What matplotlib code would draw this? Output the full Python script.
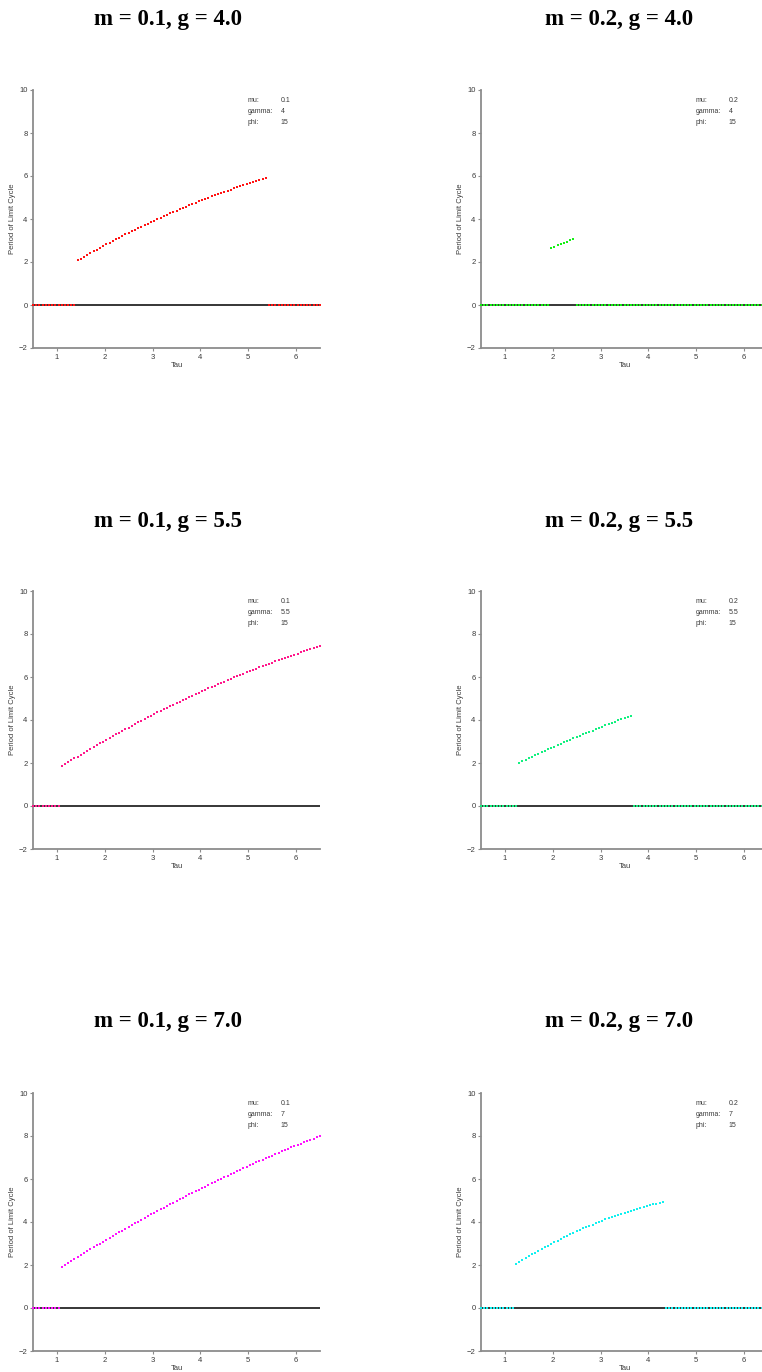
import numpy as np
import matplotlib
matplotlib.use('Agg')
import matplotlib.pyplot as plt

# Tau sweep used for every run
TAU_MIN, TAU_MAX, N_TAU = 0.5, 6.5, 91
tau = np.linspace(TAU_MIN, TAU_MAX, N_TAU)

mu_values = [0.1, 0.2]
gamma_values = [4.0, 5.5, 7.0]
phi = 15

# Limit-cycle period, listed from the first tau index where the cycle exists
k_mu01_g40 = 14
p_mu01_g40 = [2.07, 2.16, 2.24, 2.32, 2.41, 2.49, 2.57, 2.65, 2.74, 2.82,
              2.89, 2.97, 3.05, 3.13, 3.20, 3.28, 3.35, 3.43, 3.50, 3.57,
              3.65, 3.72, 3.79, 3.86, 3.93, 4.00, 4.06, 4.13, 4.20, 4.26,
              4.33, 4.39, 4.46, 4.52, 4.58, 4.64, 4.70, 4.76, 4.82, 4.88,
              4.94, 4.99, 5.05, 5.11, 5.16, 5.22, 5.27, 5.32, 5.37, 5.43,
              5.48, 5.53, 5.57, 5.62, 5.67, 5.72, 5.76, 5.81, 5.85, 5.90]

k_mu02_g40 = 22
p_mu02_g40 = [2.64, 2.71, 2.77, 2.83, 2.89, 2.95, 3.01, 3.07]

k_mu01_g55 = 9
p_mu01_g55 = [1.85, 1.94, 2.03, 2.12, 2.21, 2.30, 2.39, 2.48, 2.57, 2.65,
              2.74, 2.82, 2.91, 2.99, 3.08, 3.16, 3.24, 3.33, 3.41, 3.49,
              3.57, 3.65, 3.73, 3.81, 3.89, 3.97, 4.04, 4.12, 4.20, 4.27,
              4.35, 4.42, 4.49, 4.57, 4.64, 4.71, 4.78, 4.86, 4.93, 5.00,
              5.07, 5.13, 5.20, 5.27, 5.34, 5.40, 5.47, 5.54, 5.60, 5.67,
              5.73, 5.79, 5.86, 5.92, 5.98, 6.04, 6.10, 6.16, 6.22, 6.28,
              6.34, 6.39, 6.45, 6.51, 6.56, 6.62, 6.67, 6.73, 6.78, 6.83,
              6.89, 6.94, 6.99, 7.04, 7.09, 7.14, 7.19, 7.24, 7.29, 7.34,
              7.38, 7.43]

k_mu02_g55 = 12
p_mu02_g55 = [2.00, 2.07, 2.14, 2.21, 2.28, 2.35, 2.42, 2.49, 2.56, 2.63,
              2.69, 2.76, 2.83, 2.89, 2.96, 3.02, 3.08, 3.15, 3.21, 3.27,
              3.33, 3.39, 3.45, 3.51, 3.57, 3.63, 3.69, 3.75, 3.81, 3.86,
              3.92, 3.98, 4.03, 4.09, 4.14, 4.19]

k_mu01_g70 = 9
p_mu01_g70 = [1.92, 2.01, 2.10, 2.20, 2.29, 2.38, 2.47, 2.56, 2.65, 2.74,
              2.83, 2.91, 3.00, 3.09, 3.18, 3.26, 3.35, 3.43, 3.52, 3.60,
              3.69, 3.77, 3.86, 3.94, 4.02, 4.10, 4.18, 4.27, 4.35, 4.43,
              4.51, 4.59, 4.67, 4.74, 4.82, 4.90, 4.98, 5.05, 5.13, 5.21,
              5.28, 5.36, 5.43, 5.51, 5.58, 5.65, 5.73, 5.80, 5.87, 5.94,
              6.01, 6.08, 6.15, 6.22, 6.29, 6.36, 6.43, 6.50, 6.57, 6.63,
              6.70, 6.77, 6.83, 6.90, 6.96, 7.03, 7.09, 7.15, 7.22, 7.28,
              7.34, 7.40, 7.47, 7.53, 7.59, 7.65, 7.71, 7.77, 7.83, 7.88,
              7.94, 8.00]

k_mu02_g70 = 11
p_mu02_g70 = [2.05, 2.14, 2.23, 2.32, 2.41, 2.49, 2.58, 2.66, 2.74, 2.82,
              2.90, 2.98, 3.06, 3.13, 3.21, 3.28, 3.35, 3.42, 3.49, 3.56,
              3.63, 3.70, 3.76, 3.82, 3.88, 3.95, 4.00, 4.06, 4.12, 4.18,
              4.23, 4.28, 4.34, 4.39, 4.43, 4.48, 4.53, 4.58, 4.62, 4.66,
              4.70, 4.75, 4.78, 4.82, 4.86, 4.89, 4.93]

runs = {
    (0.1, 4.0): (k_mu01_g40, p_mu01_g40, '#ff1414'),
    (0.2, 4.0): (k_mu02_g40, p_mu02_g40, '#14f014'),
    (0.1, 5.5): (k_mu01_g55, p_mu01_g55, '#ff1a8c'),
    (0.2, 5.5): (k_mu02_g55, p_mu02_g55, '#14f080'),
    (0.1, 7.0): (k_mu01_g70, p_mu01_g70, '#ff14ff'),
    (0.2, 7.0): (k_mu02_g70, p_mu02_g70, '#14f0f0'),
}

W, H = 762, 1372
fig = plt.figure(figsize=(W / 100, H / 100), dpi=100)

AX_W, AX_H = 287, 258
col_left = [33, 481]
row_top = [90, 591, 1093]
title_x = [168, 619]
title_y = [20, 522, 1022]

SANS = 'Liberation Sans'
GREY = '#8c8c8c'
TXT = '#3a3a3a'
MS = 1.9

for r, g in enumerate(gamma_values):
    for c, mu in enumerate(mu_values):
        k0, periods, color = runs[(mu, g)]
        period = np.zeros(N_TAU)
        period[k0:k0 + len(periods)] = periods
        on = period > 0

        ax = fig.add_axes([col_left[c] / W, 1 - (row_top[r] + AX_H) / H,
                           AX_W / W, AX_H / H])
        ax.axhline(0, color='black', lw=1.1, zorder=2)
        ax.plot(tau[~on], period[~on], 's', ms=MS, mew=0, color=color,
                zorder=3, clip_on=False)
        ax.plot(tau[on], period[on], 's', ms=MS, mew=0, color=color,
                zorder=3)

        ax.set_xlim(TAU_MIN, TAU_MAX)
        ax.set_ylim(-2, 10)
        ax.set_xticks(range(1, 7))
        ax.set_yticks(range(-2, 11, 2))
        for side in ('top', 'right'):
            ax.spines[side].set_visible(False)
        for side in ('left', 'bottom'):
            ax.spines[side].set_color(GREY)
            ax.spines[side].set_linewidth(1.3)
        ax.tick_params(direction='out', length=2, width=0.8, color=GREY,
                       labelsize=5.5, labelcolor=TXT, pad=2)
        for lab in ax.get_xticklabels() + ax.get_yticklabels():
            lab.set_family(SANS)
        ax.set_xlabel('Tau', fontsize=5.5, color=TXT, family=SANS, labelpad=1)
        ax.set_ylabel('Period of Limit Cycle', fontsize=5.5, color=TXT,
                      family=SANS, labelpad=2)

        info = [('mu:', f'{mu:g}'), ('gamma:', f'{g:g}'), ('phi:', f'{phi}')]
        for i, (name, val) in enumerate(info):
            yy = 0.958 - i * 0.042
            ax.text(0.747, yy, name, transform=ax.transAxes, fontsize=5,
                    color=TXT, family=SANS, va='center')
            ax.text(0.862, yy, val, transform=ax.transAxes, fontsize=5,
                    color=TXT, family=SANS, va='center')

        fig.text(title_x[c] / W, 1 - title_y[r] / H,
                 f'm = {mu:.1f}, g = {g:.1f}', ha='center', va='center',
                 fontsize=16.5, fontweight='bold', family='Liberation Serif')

fig.savefig('out.png', dpi=100)
